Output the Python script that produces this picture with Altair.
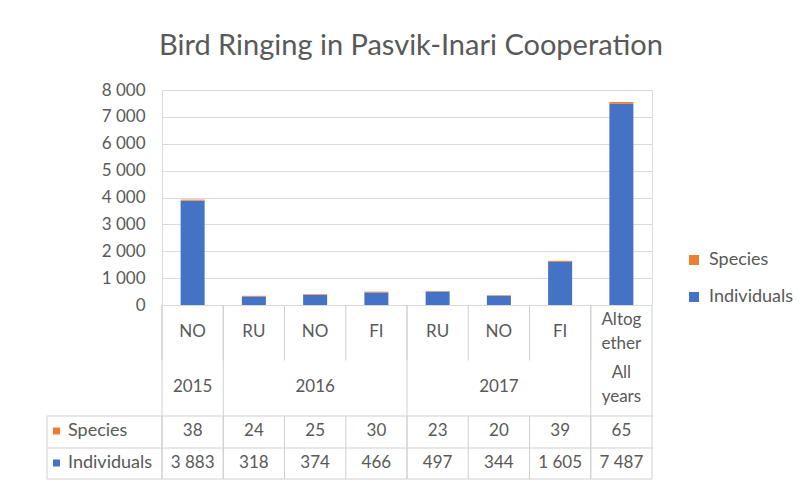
import altair as alt
import pandas as pd

# ---- data ----
countries = ["NO", "RU", "NO", "FI", "RU", "NO", "FI", "Altog\nether"]
years = ["2015", "2016", "2016", "2016", "2017", "2017", "2017", "All\nyears"]
species = [38, 24, 25, 30, 23, 20, 39, 65]
individuals = [3883, 318, 374, 466, 497, 344, 1605, 7487]
series = ["Species", "Individuals"]
colors = ["#ED7D31", "#4472C4"]
y_ticks = [0, 1000, 2000, 3000, 4000, 5000, 6000, 7000, 8000]

FONT = "Lato"
TXT = "#595959"
LINE = "#d0d0d0"


def fmt(v):
    return f"{v:,}".replace(",", " ")


idx = list(range(len(countries)))

# bars (long form)
bars_df = pd.DataFrame(
    [{"idx": i, "series": "Individuals", "value": individuals[i], "ord": 0} for i in idx]
    + [{"idx": i, "series": "Species", "value": species[i], "ord": 1} for i in idx]
)

table_df = pd.DataFrame({
    "idx": idx,
    "country": countries,
    "multi": ["\n" in c for c in countries],
    "sp": [str(v) for v in species],
    "ind": [fmt(v) for v in individuals],
})

# year groups: start index, end index, middle index
groups = []
for i, y in enumerate(years):
    if groups and groups[-1]["year"] == y:
        groups[-1]["end"] = i
    else:
        groups.append({"year": y, "start": i, "end": i})
for g in groups:
    g["mid"] = (g["start"] + g["end"]) // 2
    g["multi"] = "\n" in g["year"]
groups_df = pd.DataFrame(groups)
group_starts = pd.DataFrame({"idx": groups_df["start"]})
last_df = pd.DataFrame({"idx": [idx[-1]]})
all_df = pd.DataFrame({"idx": idx})
head_df = pd.DataFrame({"series": series})

xs = alt.Scale(paddingInner=0, paddingOuter=0)
X = alt.X("idx:O", scale=xs, axis=None)

# plot-relative y positions of the table rows (pixels)
Y0 = 215          # table top (= zero line)
Y_CAT_END = 270.5
Y_ROW1 = 326
Y_ROW2 = 358
Y_ROW3 = 389
LEFT = -115
Y_SP = 341
Y_IND = 373

bars = alt.Chart(bars_df).mark_bar(size=24).encode(
    x=X,
    y=alt.Y(
        "value:Q",
        stack="zero",
        scale=alt.Scale(domain=[0, 8000], nice=False),
        axis=alt.Axis(
            values=y_ticks, grid=True, gridColor="#d9d9d9", gridWidth=1,
            ticks=False, domain=False, title=None,
            labelExpr="replace(format(datum.value, ','), ',', ' ')",
            labelPadding=17, labelFontSize=17, labelColor=TXT, labelFont=FONT,
        ),
    ),
    color=alt.Color(
        "series:N",
        scale=alt.Scale(domain=series, range=colors),
        legend=alt.Legend(
            title=None, orient="none", legendX=523, legendY=161,
            symbolType="square", symbolSize=100, symbolStrokeWidth=0,
            labelFont=FONT, labelFontSize=18, labelColor=TXT,
            labelOffset=6, rowPadding=19,
        ),
    ),
    order=alt.Order("ord:Q"),
)

# ---- table lines ----
v_cat = alt.Chart(all_df).mark_rule(color=LINE).encode(
    x=alt.X("idx:O", scale=xs, axis=None, bandPosition=0),
    y=alt.value(Y0), y2=alt.value(Y_CAT_END))
v_grp = alt.Chart(group_starts).mark_rule(color=LINE).encode(
    x=alt.X("idx:O", scale=xs, axis=None, bandPosition=0),
    y=alt.value(Y0), y2=alt.value(Y_ROW3))
v_last = alt.Chart(last_df).mark_rule(color=LINE).encode(
    x=alt.X("idx:O", scale=xs, axis=None, bandPosition=1),
    y=alt.value(Y0), y2=alt.value(Y_ROW3))
v_rows = alt.Chart(all_df).mark_rule(color=LINE).encode(
    x=alt.X("idx:O", scale=xs, axis=None, bandPosition=0),
    y=alt.value(Y_ROW1), y2=alt.value(Y_ROW3))
v_left = alt.Chart(last_df).mark_rule(color=LINE).encode(
    x=alt.value(LEFT), y=alt.value(Y_ROW1), y2=alt.value(Y_ROW3))
h_lines = alt.layer(*[
    alt.Chart(last_df).mark_rule(color=LINE).encode(
        x=alt.value(LEFT), x2=alt.value(490), y=alt.value(yy))
    for yy in (Y_ROW1, Y_ROW2, Y_ROW3)
])

txt = dict(font=FONT, fontSize=17, color=TXT, baseline="middle", lineBreak="\n", lineHeight=24)

cat_one = alt.Chart(table_df).transform_filter("!datum.multi").mark_text(**txt).encode(
    x=X, y=alt.value(242), text="country:N")
cat_two = alt.Chart(table_df).transform_filter("datum.multi").mark_text(**txt).encode(
    x=X, y=alt.value(230), text="country:N")
year_one = alt.Chart(groups_df).transform_filter("!datum.multi").mark_text(**txt).encode(
    x=alt.X("mid:O", scale=xs, axis=None), y=alt.value(297), text="year:N")
year_two = alt.Chart(groups_df).transform_filter("datum.multi").mark_text(**txt).encode(
    x=alt.X("mid:O", scale=xs, axis=None), y=alt.value(283), text="year:N")
sp_text = alt.Chart(table_df).mark_text(**txt).encode(
    x=X, y=alt.value(Y_SP), text="sp:N")
ind_text = alt.Chart(table_df).mark_text(**txt).encode(
    x=X, y=alt.value(Y_IND), text="ind:N")

head_y = alt.Y("series:N", scale=alt.Scale(type="point", domain=series, range=[Y_SP, Y_IND], padding=0), axis=None)
head_sq = alt.Chart(head_df).mark_square(size=49, opacity=1).encode(
    x=alt.value(-105.5), y=head_y,
    color=alt.Color("series:N", scale=alt.Scale(domain=series, range=colors), legend=None))
head_txt = alt.Chart(head_df).mark_text(align="left", **{**txt, "fontSize": 18}).encode(
    x=alt.value(-94), y=head_y, text="series:N")

chart = alt.layer(
    bars, v_cat, v_grp, v_last, v_rows, v_left, h_lines,
    cat_one, cat_two, year_one, year_two, sp_text, ind_text, head_sq, head_txt,
).resolve_scale(y="independent").properties(
    width=490, height=215,
    padding={"left": 154, "top": 82, "right": 145, "bottom": 176},
    autosize=alt.AutoSizeParams(type="none"),
    title=alt.Title(
        "Bird Ringing in Pasvik-Inari Cooperation",
        font=FONT, fontSize=29, fontWeight="normal", color=TXT,
        anchor="middle", offset=20, dx=4,
    ),
).configure_view(stroke=None).configure(background="white")

chart.save("out.html", embed_options={"renderer": "svg", "actions": False})
